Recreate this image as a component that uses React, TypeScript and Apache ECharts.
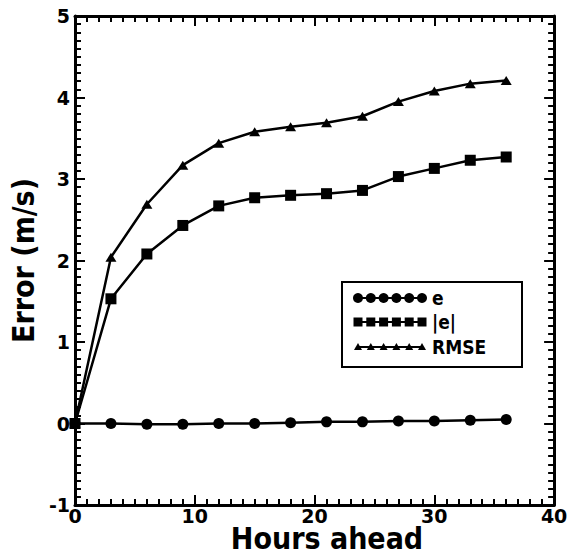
import React, { useEffect, useRef } from "react";
import * as echarts from "echarts";

const hours = [0, 3, 6, 9, 12, 15, 18, 21, 24, 27, 30, 33, 36];
const eVals = [0, 0, -0.01, -0.01, 0, 0, 0.01, 0.02, 0.02, 0.03, 0.03, 0.04, 0.05];
const absEVals = [0, 1.53, 2.08, 2.43, 2.67, 2.77, 2.8, 2.82, 2.86, 3.03, 3.13, 3.23, 3.27];
const rmseVals = [0, 2.04, 2.69, 3.17, 3.44, 3.58, 3.64, 3.69, 3.77, 3.95, 4.08, 4.17, 4.21];
const seriesNames = ["e", "|e|", "RMSE"];
const xTitle = "Hours ahead";
const yTitle = "Error (m/s)";
const xTicks = { min: 0, max: 40, interval: 10 };
const yTicks = { min: -1, max: 5, interval: 1 };

const FONT = "DejaVu Sans Condensed, DejaVu Sans, sans-serif";
const TICKFONT = "DejaVu Sans, sans-serif";

function toPairs(vals: number[]) {
  return hours.map((h, i) => [h, vals[i]]);
}

function axisLine() {
  return { show: true, onZero: false, lineStyle: { color: "#000", width: 3 } };
}
function tick() {
  return { show: true, inside: true, length: 10, lineStyle: { color: "#000", width: 2 } };
}
function minor() {
  return { show: true, splitNumber: 10, length: 6, lineStyle: { color: "#000", width: 2 } };
}
function label(margin: number) {
  return { color: "#000", fontFamily: TICKFONT, fontWeight: "bold", fontSize: 19, margin };
}

function legendGraphic() {
  const bx = 342;
  const by = 282;
  const rows = [298, 322, 347];
  const cs = [0, 1, 2, 3, 4, 5].map((i) => 358 + i * 12.8);
  const children: any[] = [
    {
      type: "rect",
      shape: { x: bx, y: by, width: 180, height: 85 },
      style: { fill: "#fff", stroke: "#000", lineWidth: 2 },
    },
  ];
  rows.forEach((ry, k) => {
    children.push({
      type: "line",
      shape: { x1: cs[0], y1: ry, x2: cs[5], y2: ry },
      style: { stroke: "#000", lineWidth: 2 },
    });
    cs.forEach((cx) => {
      if (k === 0) {
        children.push({ type: "circle", shape: { cx, cy: ry, r: 5 }, style: { fill: "#000" } });
      } else if (k === 1) {
        children.push({
          type: "rect",
          shape: { x: cx - 4.5, y: ry - 4.5, width: 9, height: 9 },
          style: { fill: "#000" },
        });
      } else {
        children.push({
          type: "polygon",
          shape: { points: [[cx, ry - 4], [cx + 4, ry + 3], [cx - 4, ry + 3]] },
          style: { fill: "#000" },
        });
      }
    });
    children.push({
      type: "text",
      x: 432,
      y: ry,
      style: {
        text: seriesNames[k],
        fill: "#000",
        fontFamily: FONT,
        fontWeight: "bold",
        fontSize: 19,
        verticalAlign: "middle",
        textVerticalAlign: "middle",
      },
    });
  });
  return { type: "group", children };
}

export default function App() {
  const ref = useRef<HTMLDivElement>(null);
  useEffect(() => {
    document.body.style.margin = "0";
    const chart = echarts.init(ref.current!, null, { renderer: "svg" });
    chart.setOption({
      animation: false,
      grid: { left: 74, right: 18, top: 16, bottom: 52 },
      xAxis: [
        {
          type: "value",
          ...xTicks,
          axisLine: axisLine(),
          axisTick: tick(),
          minorTick: minor(),
          splitLine: { show: false },
          axisLabel: label(1),
        },
        {
          type: "value",
          position: "top",
          ...xTicks,
          axisLine: axisLine(),
          axisTick: tick(),
          minorTick: minor(),
          splitLine: { show: false },
          axisLabel: { show: false },
        },
      ],
      yAxis: [
        {
          type: "value",
          ...yTicks,
          axisLine: axisLine(),
          axisTick: tick(),
          minorTick: minor(),
          splitLine: { show: false },
          axisLabel: label(5),
          name: yTitle,
          nameLocation: "middle",
          nameGap: 30,
          nameRotate: 90,
          nameTextStyle: { color: "#000", fontFamily: FONT, fontWeight: "bold", fontSize: 30 },
        },
        {
          type: "value",
          position: "right",
          ...yTicks,
          axisLine: axisLine(),
          axisTick: tick(),
          minorTick: minor(),
          splitLine: { show: false },
          axisLabel: { show: true, color: "rgba(0,0,0,0)", fontSize: 10 },
        },
      ],
      graphic: [
        legendGraphic(),
        {
          type: "text",
          x: 327,
          y: 538,
          style: {
            text: xTitle,
            fill: "#000",
            fontFamily: FONT,
            fontWeight: "bold",
            fontSize: 30,
            align: "center",
            verticalAlign: "middle",
            textAlign: "center",
            textVerticalAlign: "middle",
          },
        },
      ],
      series: [
        {
          name: seriesNames[0],
          type: "line",
          xAxisIndex: 1,
          yAxisIndex: 0,
          data: toPairs(eVals),
          symbol: "circle",
          symbolSize: 11,
          color: "#000",
          lineStyle: { color: "#000", width: 2.5 },
          itemStyle: { color: "#000" },
        },
        {
          name: seriesNames[1],
          type: "line",
          xAxisIndex: 0,
          yAxisIndex: 0,
          data: toPairs(absEVals),
          symbol: "rect",
          symbolSize: 11,
          color: "#000",
          lineStyle: { color: "#000", width: 2.5 },
          itemStyle: { color: "#000" },
        },
        {
          name: seriesNames[2],
          type: "line",
          xAxisIndex: 0,
          yAxisIndex: 0,
          data: toPairs(rmseVals),
          symbol: "triangle",
          symbolSize: [11, 9],
          color: "#000",
          lineStyle: { color: "#000", width: 2.5 },
          itemStyle: { color: "#000" },
        },
      ],
    });
    return () => chart.dispose();
  }, []);
  return <div ref={ref} style={{ width: 574, height: 557 }} />;
}
